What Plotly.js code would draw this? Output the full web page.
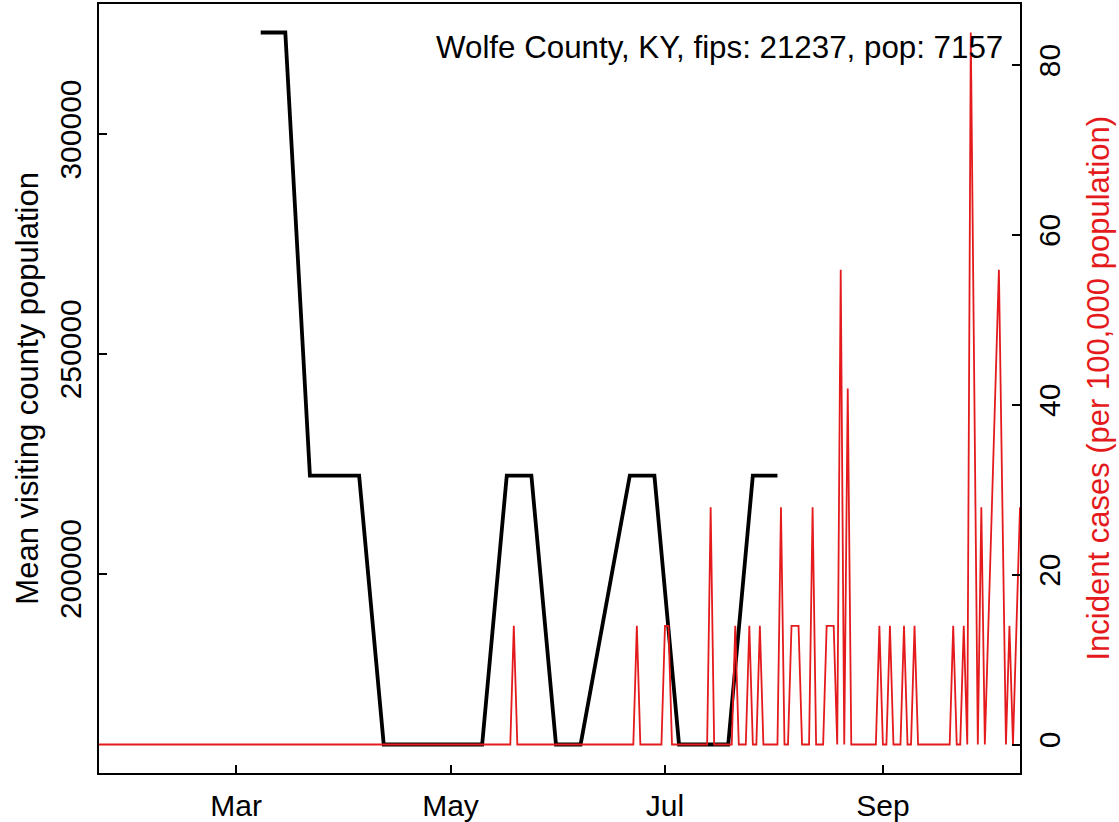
<!DOCTYPE html>
<html>
<head>
<meta charset="utf-8">
<script src="https://cdn.plot.ly/plotly-3.0.1.min.js"></script>
<style>
  html, body { margin: 0; padding: 0; background: #ffffff; }
  #chart { width: 1119px; height: 822px; }
</style>
</head>
<body>
<div id="chart"></div>
<script>
// ---- Black series: weekly mean visiting county population ----
const popDates = [
  '2020-03-08', '2020-03-15', '2020-03-22', '2020-03-29', '2020-04-05',
  '2020-04-12', '2020-04-19', '2020-04-26', '2020-05-03', '2020-05-10',
  '2020-05-17', '2020-05-24', '2020-05-31', '2020-06-07', '2020-06-21',
  '2020-06-28', '2020-07-05', '2020-07-12', '2020-07-19', '2020-07-26',
  '2020-08-02'
];
const popValues = [
  323100, 323100, 222300, 222300, 222300,
  161100, 161100, 161100, 161100, 161100,
  222300, 222300, 161100, 161100, 222300,
  222300, 161100, 161100, 161100, 222300,
  222300
];

// ---- Red series: daily incident cases per 100,000 (null = no record) ----
const redStart = '2020-01-22';
const redJan = [0,0,0,0,0,0,0,0,0,0];
const redFeb = [0,0,0,0,0,0,0,0,0,0, 0,0,0,0,0,0,0,0,0,0, 0,0,0,0,0,0,0,0,0];
const redMar = [0,0,0,0,0,0,0,0,0,0, 0,0,0,0,0,0,0,0,0,0, 0,0,0,0,0,0,0,0,0,0, 0];
const redApr = [0,0,0,0,0,0,0,0,0,0, 0,0,0,0,0,0,0,0,0,0, 0,0,0,0,0,0,0,0,0,0];
const redMay = [0,0,0,0,0,0,0,0,0,0, 0,0,0,0,0,0,0,0,13.97,0, 0,0,0,0,0,0,0,0,0,0, 0];
const redJun = [0,0,0,0,0,0,0,0,0,0, 0,0,0,0,0,0,0,0,0,0, 0,0,13.97,0,0,0,0,0,0,0];
const redJul = [13.97,13.97,0,0,0,0,0,0,0,0, 0,0,0,27.94,0,0,0,0,0,0, 13.97,0,0,0,13.97,0,0,13.97,0,0, 0];
const redAug = [0,0,27.94,0,0,13.97,13.97,13.97,0,0, 0,27.94,0,0,0,13.97,13.97,13.97,0,55.89, 0,41.92,0,0,0,0,0,0,0,0, 13.97];
const redSep = [0,0,13.97,0,0,0,13.97,0,0,13.97, 0,0,0,0,0,0,0,0,0,0, 13.97,0,0,13.97,0,83.83,null,0,27.94,0];
const redOct = [null,null,null,55.89,null,0,13.97,0,null,27.94];

// ---- Axis ticks ----
const xTickVals = ['2020-03-01', '2020-05-01', '2020-07-01', '2020-09-01'];
const xTickText = ['Mar', 'May', 'Jul', 'Sep'];
const yTickVals = [200000, 250000, 300000];
const y2TickVals = [0, 20, 40, 60, 80];
const titleText = 'Wolfe County, KY, fips: 21237, pop: 7157';

// build daily dates for the red series
const redValues = [].concat(redJan, redFeb, redMar, redApr, redMay, redJun, redJul, redAug, redSep, redOct);
const redDates = [];
(function () {
  const p = redStart.split('-').map(Number);
  const t0 = Date.UTC(p[0], p[1] - 1, p[2]);
  for (let i = 0; i < redValues.length; i++) {
    redDates.push(new Date(t0 + i * 86400000).toISOString().slice(0, 10));
  }
})();

function padRange(vals) {
  const v = vals.filter(function (a) { return a !== null; });
  const lo = Math.min.apply(null, v), hi = Math.max.apply(null, v);
  const d = (hi - lo) * 0.04;
  return [lo - d, hi + d];
}

const FONT = 'Liberation Sans, Arial, Helvetica, sans-serif';
const RED = '#E41A1C';

const traces = [
  {
    x: popDates, y: popValues, type: 'scatter', mode: 'lines',
    line: { color: '#000000', width: 3.8 }, yaxis: 'y', hoverinfo: 'skip'
  },
  {
    x: redDates, y: redValues, type: 'scatter', mode: 'lines', connectgaps: true,
    line: { color: RED, width: 1.8 }, yaxis: 'y2', hoverinfo: 'skip'
  }
];

const layout = {
  width: 1119, height: 822,
  margin: { l: 99, r: 99, t: 4, b: 49 },
  paper_bgcolor: '#ffffff', plot_bgcolor: '#ffffff',
  showlegend: false,
  font: { family: FONT, size: 30, color: '#000000' },
  xaxis: {
    type: 'date',
    range: [redDates[0], redDates[redDates.length - 1]],
    tickvals: xTickVals, ticktext: xTickText,
    ticks: 'inside', ticklen: 8, tickwidth: 2, tickcolor: '#000',
    showline: true, linecolor: '#000', linewidth: 2, mirror: true,
    showgrid: false, zeroline: false,
    tickfont: { family: FONT, size: 30, color: '#000' },
    ticklabelstandoff: 5
  },
  yaxis: {
    range: padRange(popValues),
    tickvals: yTickVals, ticktext: yTickVals.map(String),
    ticks: 'inside', ticklen: 8, tickwidth: 2, tickcolor: '#000',
    showline: true, linecolor: '#000', linewidth: 2, mirror: true,
    showgrid: false, zeroline: false, tickangle: -90,
    tickfont: { family: FONT, size: 30, color: '#000' },
    ticklabelstandoff: 4
  },
  yaxis2: {
    overlaying: 'y', side: 'right',
    range: padRange(redValues),
    tickvals: y2TickVals, ticktext: y2TickVals.map(String),
    ticks: 'inside', ticklen: 8, tickwidth: 2, tickcolor: '#000',
    showline: true, linecolor: '#000', linewidth: 2,
    showgrid: false, zeroline: false, tickangle: -90,
    tickfont: { family: FONT, size: 30, color: '#000' },
    ticklabelstandoff: 2
  },
  annotations: [
    {
      text: titleText, xref: 'paper', yref: 'paper',
      x: 0.9837, y: 0.944, xanchor: 'right', yanchor: 'middle',
      showarrow: false, font: { family: FONT, size: 31.3, color: '#000' }
    },
    {
      text: 'Mean visiting county population', xref: 'paper', yref: 'paper',
      x: -0.078, y: 0.5, xanchor: 'center', yanchor: 'middle', textangle: -90,
      showarrow: false, font: { family: FONT, size: 31, color: '#000' }
    },
    {
      text: 'Incident cases (per 100,000 population)', xref: 'paper', yref: 'paper',
      x: 1.0847, y: 0.5, xanchor: 'center', yanchor: 'middle', textangle: -90,
      showarrow: false, font: { family: FONT, size: 31, color: RED }
    }
  ]
};

Plotly.newPlot('chart', traces, layout, { staticPlot: true, displayModeBar: false });
</script>
</body>
</html>
